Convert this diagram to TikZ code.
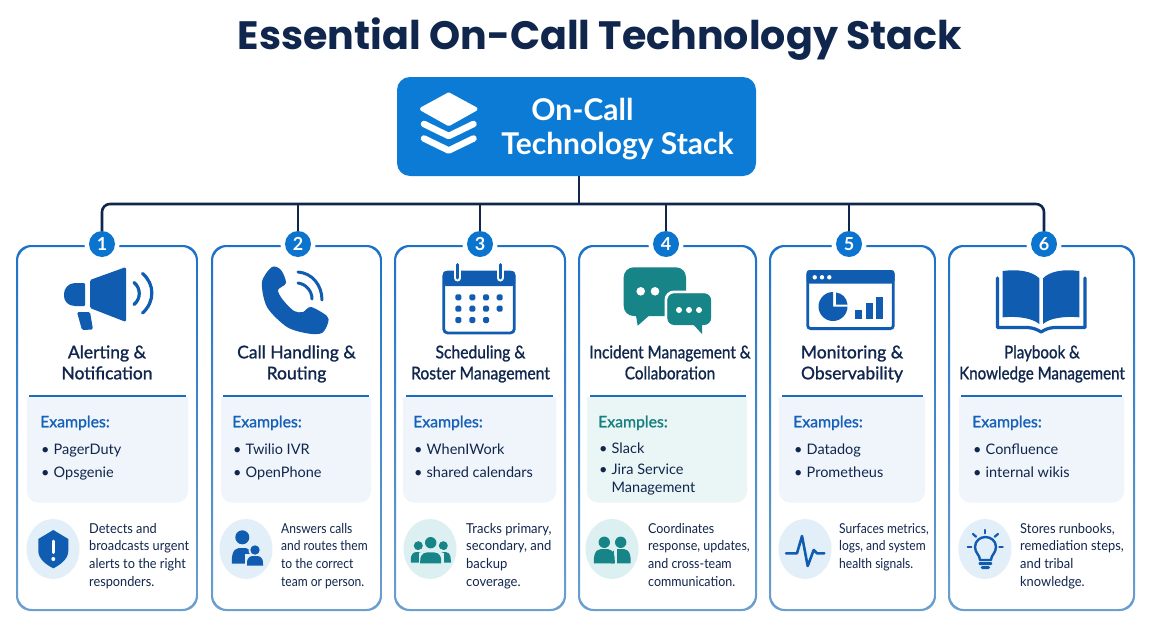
\documentclass[tikz,border=0pt]{standalone}
\usepackage{fontspec}
\setmainfont{Lato}
\newfontfamily\medfont[FakeBold=1.2]{Lato}
\newfontfamily\headfont{Poppins}
\usetikzlibrary{positioning}

\definecolor{navyink}{HTML}{10264D}
\definecolor{headblue}{HTML}{0B7BD6}
\definecolor{badgeblue}{HTML}{0B74CE}
\definecolor{frametop}{HTML}{1C72C8}
\definecolor{framebot}{HTML}{6BA0CF}
\definecolor{ruleblue}{HTML}{1A6CBF}
\definecolor{iconblue}{HTML}{0F5CB0}
\definecolor{iconteal}{HTML}{178488}
\definecolor{panelblue}{HTML}{EFF5FB}
\definecolor{panelteal}{HTML}{EAF5F6}
\definecolor{discblue}{HTML}{E2EEF8}
\definecolor{discteal}{HTML}{DCF0F1}
\definecolor{examblue}{HTML}{1560BA}
\definecolor{examteal}{HTML}{16807F}

\begin{document}
\begin{tikzpicture}[x=1pt,y=-1pt]
	% Define styles
	\tikzset{
		wire/.style={draw=navyink, line width=2.6pt},
		badge/.style={circle, fill=badgeblue, text=white, minimum size=26pt, inner sep=0pt, outer sep=0pt, font=\fontsize{18}{18}\selectfont\bfseries},
		cardtitle/.style={align=center, inner sep=0pt, text=navyink, anchor=base, font=\fontsize{17.5}{21}\selectfont\medfont},
		examhead/.style={inner sep=0pt, anchor=base west, text=examblue, font=\fontsize{15.8}{17}\selectfont\medfont},
		examitem/.style={inner sep=0pt, anchor=base west, align=left, text=navyink, font=\fontsize{14.5}{18.3}\selectfont},
		blurb/.style={inner sep=0pt, anchor=base west, align=left, text=navyink, transform shape, font=\fontsize{13.7}{17.6}\selectfont},
		hair/.style={line width=2.2pt, line cap=round, line join=round},
	}
	
	% Macros for bullets and people
	\def\dotbox{\makebox[13.5pt][l]{\hspace{1pt}•}}
	\def\drawperson#1#2#3#4#5#6#7{
		\fill[#7] (#1,#2) circle[radius=#3];
		\fill[#7] ({#1-#4},#6) -- ({#1-#4},{#6-2}) .. controls ({#1-#4},#5) and ({#1-0.5*#4},#5) .. (#1,#5)
			.. controls ({#1+0.5*#4},#5) and ({#1+#4},#5) .. ({#1+#4},{#6-2}) -- ({#1+#4},#6) -- cycle;
	}
	
	\useasboundingbox (0,0) rectangle (1152,640);
	\fill[white] (0,0) rectangle (1152,640);
	
	% Title and header box
	\node[inner sep=0pt, text=navyink, anchor=base, font=\fontsize{39.6}{40}\selectfont\headfont\bfseries] (maintitle) at (600,49) {Essential On-Call Technology Stack};
	\node[fill=headblue, rounded corners=13pt, minimum width=359pt, minimum height=99pt, inner sep=0pt, outer sep=0pt] (stackbox) at (576.5,126.5) {};
	\node[inner sep=0pt, anchor=base, text=white, font=\fontsize{30}{30}\selectfont\bfseries] (stackone) at (582.5,120) {On-Call};
	\node[inner sep=0pt, anchor=base, text=white, font=\fontsize{30}{30}\selectfont\bfseries] (stacktwo) at (617.5,154.3) {Technology Stack};
	
	% Stack icon
	\fill[white, draw=white, line width=4pt, line join=round] (448.7,94.5) -- (475.5,109) -- (448.7,124) -- (422,109) -- cycle;
	\draw[white, line width=6.5pt, line cap=round, line join=round] (424,124) -- (448.7,136) -- (473.5,124);
	\draw[white, line width=6.5pt, line cap=round, line join=round] (424,138.5) -- (448.7,150.5) -- (473.5,138.5);
	
	% Card frames, panels and discs
	\foreach \id/\xa/\xb/\xc/\pa/\pb/\da/\db/\dc/\panelc/\discc in {
		1/17/197/102/27/188/29/186/53/panelblue/discblue,
		2/212/381/298/221/371/223/369/246/panelblue/discblue,
		3/395/565/480/403/556/406/553/430/panelblue/discteal,
		4/579/756/666/587/747/590/746/612/panelteal/discteal,
		5/770/935/849/779/925/782/923/805/panelblue/discblue,
		6/949/1134/1044/959/1124/961/1122/985/panelblue/discblue}
	{
		\path[shade, top color=frametop, bottom color=framebot, even odd rule]
			[rounded corners=15pt] ({\xa-1},245) rectangle ({\xb+1},611)
			[rounded corners=14pt] ({\xa+1},247) rectangle ({\xb-1},609);
		\fill[white] (\xc,244) circle[radius=17.5];
		\node[badge] (badge\id) at (\xc,244) {\id};
		\fill[\panelc] (\pa,397) -- (\pb,397) [rounded corners=11pt] -- (\pb,502.5) -- (\pa,502.5) [sharp corners] -- cycle;
		\draw[ruleblue, line width=1.6pt] (\da,396) -- (\db,396);
		\fill[\discc] (\dc,549) ellipse[x radius=26.5, y radius=30];
	}
	
	% Connectors
	\coordinate (busmid) at (579,204);
	\draw[wire, rounded corners=8pt] (badge1.north) |- (busmid) -| (badge6.north);
	\draw[wire] (stackbox.south -| busmid) -- (busmid);
	\foreach \id in {2,3,4,5} \draw[wire] (badge\id.north) -- (badge\id.north |- busmid);
	
	% Card 1: Alerting
	\node[cardtitle] (title1) at (107,379.3) {Alerting \&\\Notification};
	\node[examhead] (exam1) at (40,427.3) {Examples:};
	\node[examitem] (item1a) at (40,454.3) {\dotbox PagerDuty};
	\node[examitem] (item1b) at (40,477.3) {\dotbox Opsgenie};
	\node[blurb, xscale=0.93] (blurb1) at (89,586) {Detects and\\broadcasts urgent\\alerts to the right\\responders.};
	\fill[iconblue, rounded corners=1pt] (85,283) -- (76,283) .. controls (68,283) and (64,289) .. (64,295) .. controls (64,301) and (68,306) .. (76,306) -- (85,306) -- cycle;
	\fill[iconblue, rounded corners=1.5pt] (90,280) -- (126,267) -- (126,322) -- (90,308) -- cycle;
	\fill[iconblue, rounded corners=1.5pt] (77,312) -- (90,312) -- (93,329.5) -- (82,330) -- cycle;
	\draw[iconblue, line width=3.2pt, line cap=round] (134,282.5) .. controls (141,288) and (141,299) .. (134,304.5);
	\draw[iconblue, line width=3.2pt, line cap=round] (142.5,273.5) .. controls (155,284) and (155,302) .. (142.5,313);
	\fill[iconblue] (38.3,539) -- (53.3,530) -- (68.3,539) -- (68.3,551) .. controls (68.3,559) and (60,565) .. (53.3,568.3) .. controls (46.6,565) and (38.3,559) .. (38.3,551) -- cycle;
	\draw[white, line width=3pt, line cap=round] (53.3,541) -- (53.3,552.5);
	\fill[white] (53.3,559) circle[radius=2];
	
	% Card 2: Call handling
	\node[cardtitle] (title2) at (296.5,379.3) {Call Handling \&\\Routing};
	\node[examhead] (exam2) at (232,427.3) {Examples:};
	\node[examitem] (item2a) at (232,454.3) {\dotbox Twilio IVR};
	\node[examitem] (item2b) at (232,477.3) {\dotbox OpenPhone};
	\node[blurb, xscale=0.88] (blurb2) at (281,586) {Answers calls\\and routes them\\to the correct\\team or person.};
	\fill[iconblue] plot[smooth cycle, tension=0.5] coordinates {(272,267) (262,282) (267,307) (287,327) (308,333.5) (322,333) (328,323) (327,316) (311,307) (303,312) (294,311) (283,300) (278,290) (286,283) (281,270)};
	\draw[iconblue, line width=3pt, line cap=round] (298,283) .. controls (306,284) and (312,291) .. (312,299);
	\draw[iconblue, line width=3pt, line cap=round] (298,272) .. controls (312,273) and (322,285) .. (322,300);
	\drawperson{242.3}{537.3}{7}{10.5}{548}{563.5}{iconblue}
	\fill[discblue] (255,550) circle[radius=6.5];
	\fill[discblue] (245,554) rectangle (265,568);
	\drawperson{255}{550}{4.7}{8}{556}{565.7}{iconblue}
	
	% Card 3: Scheduling
	\node[cardtitle, transform shape, xscale=0.895] (title3) at (480.5,379.3) {Scheduling \&\\Roster Management};
	\node[examhead] (exam3) at (413,427.3) {Examples:};
	\node[examitem] (item3a) at (413,454.3) {\dotbox WhenIWork};
	\node[examitem] (item3b) at (413,477.3) {\dotbox shared calendars};
	\node[blurb, xscale=0.95] (blurb3) at (466,586) {Tracks primary,\\secondary, and\\backup\\coverage.};
	\draw[iconblue, line width=2.8pt, rounded corners=4pt] (443.7,272) rectangle (514.3,333);
	\fill[iconblue, rounded corners=3pt] (443,271) rectangle (515,286);
	\foreach \px in {457.7,500} {
		\draw[white, line width=7pt, line cap=round] (\px,266) -- (\px,278);
		\draw[iconblue, line width=3pt, line cap=round] (\px,264.5) -- (\px,278);
	}
	\foreach \py/\pxs in {297.3/{458.3,472.3,486,499.7},308.7/{458.3,472.3,486,499.7},320/{458.3,472.3,486}}
		\foreach \px in \pxs \fill[iconblue, rounded corners=1.5pt] ({\px-3},{\py-3}) rectangle ({\px+3},{\py+3});
	\drawperson{418.3}{545.7}{4.5}{7.5}{552}{562.5}{iconteal}
	\drawperson{443.3}{545.7}{4.5}{7.5}{552}{562.5}{iconteal}
	\fill[discteal] (431,551) ellipse[x radius=13, y radius=3];
	\fill[discteal] (418.5,553) rectangle (443.5,564);
	\drawperson{430.7}{542.7}{5.7}{10.5}{552.3}{563.3}{iconteal}
	
	% Card 4: Incident management
	\node[cardtitle, transform shape, xscale=0.875] (title4) at (670,379.3) {Incident Management \&\\Collaboration};
	\node[examhead, text=examteal] (exam4) at (598,427.3) {Examples:};
	\node[examitem] (item4a) at (598,453.3) {\dotbox Slack};
	\node[examitem] (item4b) at (598,474) {\dotbox Jira Service};
	\node[examitem] (item4c) at (611.5,492.3) {Management};
	\node[blurb, xscale=0.91] (blurb4) at (648,586) {Coordinates\\response, updates,\\and cross-team\\communication.};
	\fill[iconteal, rounded corners=10pt] (623.7,267.3) rectangle (686,316);
	\fill[iconteal] (635.5,313) -- (637.7,325.7) -- (652,313) -- cycle;
	\fill[white] (640.7,291.3) circle[radius=4.3];
	\fill[white] (655,291.3) circle[radius=4.3];
	\fill[iconteal, draw=white, line width=3pt, rounded corners=8pt] (666,292) rectangle (712.5,326);
	\fill[iconteal, rounded corners=7pt] (667.3,293.3) rectangle (711,325);
	\fill[iconteal] (691,322) -- (702,334) -- (702,322) -- cycle;
	\foreach \px in {679,689,699} \fill[white] (\px,310) circle[radius=3];
	\drawperson{620.7}{542.3}{5.7}{10}{549}{563.3}{iconteal}
	\fill[discteal] (614.2,549) rectangle (616.7,564);
	\drawperson{604.3}{542.3}{5.7}{10.5}{549}{563.3}{iconteal}
	\fill[discteal] (614.8,549) rectangle (616.7,564);
	
	% Card 5: Monitoring
	\node[cardtitle] (title5) at (852,379.3) {Monitoring \&\\Observability};
	\node[examhead] (exam5) at (793,427.3) {Examples:};
	\node[examitem] (item5a) at (793,454.3) {\dotbox Datadog};
	\node[examitem] (item5b) at (793,477.3) {\dotbox Prometheus};
	\node[blurb, xscale=0.88] (blurb5) at (839,568.3) {Surfaces metrics,\\logs, and system\\health signals.};
	\draw[iconblue, line width=2.8pt, rounded corners=3pt] (807.7,271.4) rectangle (893.3,328.6);
	\fill[iconblue, rounded corners=3pt] (806.5,270) rectangle (894.5,283.5);
	\foreach \px in {814.7,822,829.3} \fill[white] (\px,277.3) circle[radius=2.2];
	\fill[iconblue] (833,306.5) -- (833,292) .. controls (825,292) and (818.5,298.5) .. (818.5,306.5) .. controls (818.5,314.5) and (825,321) .. (833,321) .. controls (841,321) and (847.5,314.5) .. (847.5,306.5) -- cycle;
	\fill[iconblue] (836,304.5) -- (836,292.5) .. controls (842,293) and (847,298) .. (847.5,304.5) -- cycle;
	\fill[iconblue] (855.3,310) rectangle (862,319);
	\fill[iconblue] (866,303.3) rectangle (872.7,319);
	\fill[iconblue] (876.3,296.7) rectangle (882.7,319);
	\draw[iconblue, line width=2.6pt, line cap=round, line join=round] (786,553.3) -- (797,553.3) -- (802,536) -- (807.7,566) -- (813.7,550) -- (817,553.3) -- (824.3,553.3);
	
	% Card 6: Playbook
	\node[cardtitle, transform shape, xscale=0.864] (title6) at (1042,379.3) {Playbook \&\\Knowledge Management};
	\node[examhead] (exam6) at (972,427.3) {Examples:};
	\node[examitem] (item6a) at (972,454.3) {\dotbox Confluence};
	\node[examitem] (item6b) at (972,477.3) {\dotbox internal wikis};
	\node[blurb, xscale=0.94] (blurb6) at (1020,586) {Stores runbooks,\\remediation steps,\\and tribal\\knowledge.};
	\fill[iconblue] (1002.7,271) .. controls (1018,269) and (1032,271) .. (1039.3,278.3) -- (1039.3,324) .. controls (1032,318) and (1018,316) .. (1002.7,317.3) -- cycle;
	\fill[iconblue] (1079.3,271) .. controls (1064,269) and (1050,271) .. (1043,278.3) -- (1043,324) .. controls (1050,318) and (1064,316) .. (1079.3,317.3) -- cycle;
	\draw[iconblue, line width=3.2pt, line join=round, line cap=round] (997.5,278) -- (997.5,327.5) -- (1028,327.5) .. controls (1034,328) and (1038,330) .. (1041.2,332) .. controls (1044,330) and (1048,328) .. (1054,327.5) -- (1085,327.5) -- (1085,278);
	\draw[iconblue, hair] (985.3,530) -- (985.3,533.3);
	\draw[iconblue, hair] (973,534) -- (976,536.7);
	\draw[iconblue, hair] (998,534) -- (994.7,536.7);
	\draw[iconblue, hair] (967.7,546.7) -- (971.3,546.7);
	\draw[iconblue, hair] (999.3,546.7) -- (1002.7,546.7);
	\draw[iconblue, line width=2.4pt, line join=round] (980,560) .. controls (980,555) and (975,553) .. (975,547) .. controls (975,541) and (980,537) .. (985.3,537) .. controls (991,537) and (996,541) .. (996,547) .. controls (996,553) and (991,555) .. (991,560) -- cycle;
	\fill[iconblue, rounded corners=1pt] (978.7,562) rectangle (992,565);
	\fill[iconblue, rounded corners=1.5pt] (980.5,566) rectangle (990,569);
\end{tikzpicture}
\end{document}
